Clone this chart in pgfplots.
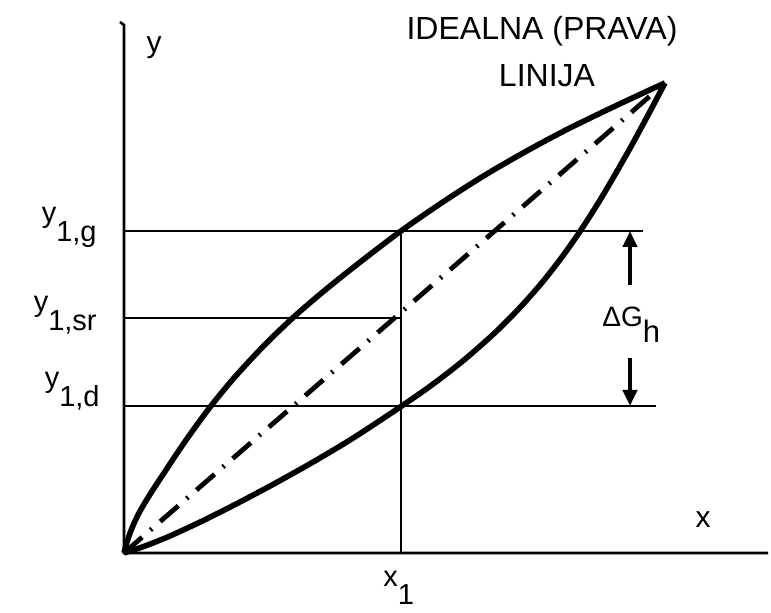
\documentclass[border=0pt]{standalone}
\usepackage{pgfplots}
\pgfplotsset{compat=1.18}
\usepackage{fontspec}
\setmainfont{Liberation Sans}
\usetikzlibrary{arrows.meta}

\begin{document}
\begin{tikzpicture}
\begin{axis}[
  scale only axis, width=385.5pt, height=306.5pt,
  xmin=-124, xmax=647, ymin=-60, ymax=553,
  hide axis, clip=false,
]
% keep the whole drawing area in the bounding box
\addplot[draw=none, forget plot] coordinates {(-124,-60) (647,553)};

% axes
\addplot[black, line width=1.3pt] coordinates {(-4,531) (0,528) (0,0) (644,0)};

% reference levels and the x1 ordinate
\addplot[black, line width=1.1pt] coordinates {(0,322) (519,322)};
\addplot[black, line width=1.1pt] coordinates {(0,235) (277,235)};
\addplot[black, line width=1.1pt] coordinates {(0,147) (532,147)};
\addplot[black, line width=1.4pt] coordinates {(277,0) (277,322)};

% ideal (straight) line
\addplot[black, line width=2.4pt, dash pattern={on 12pt off 5.5pt on 1pt off 5.5pt}]
  coordinates {(0,0) (541,470)};

% upper branch
\addplot[black, line width=2.8pt, smooth] coordinates {
  (0,0) (3,11) (8,25) (15,40) (25,57) (40,80) (60,110) (85,144.5)
  (110,175) (140,207.4) (170,236.2) (200,262) (235,290) (277,322)
  (320,351.7) (360,377.3) (400,400.5) (440,422) (480,441.6)
  (520,460.4) (541,470)};

% lower branch
\addplot[black, line width=2.8pt, smooth] coordinates {
  (0,0) (20,6.6) (45,16.6) (75,30.4) (110,47.9) (150,69.1) (190,91.5)
  (230,115.5) (277,146.5) (310,169.6) (340,193) (370,219.4)
  (395,244.4) (418,270.4) (438,296) (456,321.6) (473,348)
  (490,376.6) (508,408.3) (525,439.7) (541,470)};

% hysteresis width arrows
\addplot[black, line width=2pt, -{Triangle[width=7pt,length=8pt]}]
  coordinates {(506,268) (506,322)};
\addplot[black, line width=2pt, -{Triangle[width=7pt,length=8pt]}]
  coordinates {(506,195) (506,147)};

% labels
\node[font=\fontsize{16}{19}\selectfont] at (axis cs:418,522) {IDEALNA (PRAVA)};
\node[font=\fontsize{16}{19}\selectfont] at (axis cs:423,477) {LINIJA};
\node[font=\fontsize{15}{18}\selectfont, anchor=base] at (axis cs:30,500) {y};
\node[font=\fontsize{15}{18}\selectfont, anchor=base] at (axis cs:579,25) {x};

\node[font=\fontsize{14.5}{17}\selectfont, anchor=base east, inner sep=0pt]
  at (axis cs:-27,330) {y\raisebox{-0.65em}{1,g}};
\node[font=\fontsize{14.5}{17}\selectfont, anchor=base east, inner sep=0pt]
  at (axis cs:-27,241) {y\raisebox{-0.65em}{1,sr}};
\node[font=\fontsize{14.5}{17}\selectfont, anchor=base east, inner sep=0pt]
  at (axis cs:-24,165) {y\raisebox{-0.65em}{1,d}};
\node[font=\fontsize{14.5}{17}\selectfont, anchor=base west, inner sep=0pt]
  at (axis cs:259,-34) {x\raisebox{-0.6em}{1}};

\node[anchor=base west, inner sep=0pt]
  at (axis cs:478,226) {\fontsize{14}{17}\selectfont ΔG\raisebox{-8pt}{\fontsize{15.5}{18}\selectfont h}};
\end{axis}
\end{tikzpicture}
\end{document}
